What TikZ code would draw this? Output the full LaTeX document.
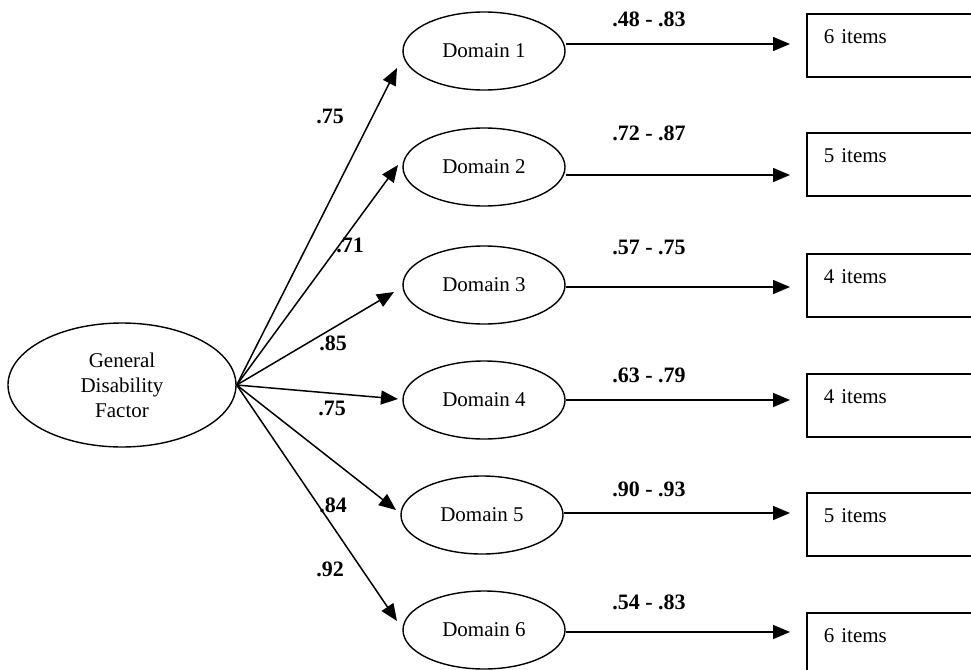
\documentclass[tikz,border=0pt]{standalone}
\usepackage{fontspec}
\setmainfont{Liberation Serif}
\usetikzlibrary{arrows.meta,shapes.geometric}
\begin{document}
\begin{tikzpicture}[x=1pt,y=-1pt,
  lat/.style={draw, ellipse, line width=1.4pt, minimum width=162pt, minimum height=78pt, inner sep=0pt, font=\fontsize{21}{25}\selectfont},
  gen/.style={draw, ellipse, line width=1.4pt, minimum width=228pt, minimum height=124pt, inner sep=0pt, align=center, font=\fontsize{21}{25}\selectfont},
  itembox/.style={draw, line width=1.8pt, rectangle, anchor=north west, minimum height=63pt, text width=170pt, inner xsep=17pt, inner ysep=0pt, align=left, text height=15pt, text depth=19pt, font=\fontsize{21}{25}\selectfont},
  coef/.style={font=\bfseries\fontsize{22}{26}\selectfont, inner sep=1pt},
  arr/.style={line width=1.5pt, -{Triangle[length=17pt,width=14pt]}},
]
\useasboundingbox (0,0) rectangle (971,669);
\clip (0,0) rectangle (971,669);
\fill[white] (0,0) rectangle (971,669);

\node[gen] (g) at (122,385) {General\\Disability\\Factor};

\node[lat] (d1) at (484,51) {Domain 1};
\node[lat] (d2) at (484,167) {Domain 2};
\node[lat] (d3) at (484,285) {Domain 3};
\node[lat] (d4) at (484,400) {Domain 4};
\node[lat] (d5) at (482,515) {Domain 5};
\node[lat] (d6) at (484,630) {Domain 6};

\node[itembox] (b1) at (806,13) {6 items};
\node[itembox] (b2) at (806,132) {5 items};
\node[itembox] (b3) at (806,253) {4 items};
\node[itembox] (b4) at (806,373) {4 items};
\node[itembox] (b5) at (806,492) {5 items};
\node[itembox] (b6) at (806,612) {6 items};

% tips of the loading arrows
\coordinate (t1) at (397,68);
\coordinate (t2) at (398,165);
\coordinate (t3) at (394,292);
\coordinate (t4) at (398,399);
\coordinate (t5) at (396,510);
\coordinate (t6) at (397,621);

\coordinate (r1) at (790,44);
\coordinate (r2) at (790,175);
\coordinate (r3) at (790,287);
\coordinate (r4) at (790,400);
\coordinate (r5) at (790,513);
\coordinate (r6) at (790,632);

\foreach \i in {1,...,6} {
  \draw[arr] (g.east) -- (t\i);
  \draw[arr] (d\i.east |- r\i) -- (r\i);
}

\node[coef] (c1) at (330,116) {.75};
\node[coef] (c2) at (350,245) {.71};
\node[coef] (c3) at (333,343) {.85};
\node[coef] (c4) at (332,408) {.75};
\node[coef] (c5) at (333,505) {.84};
\node[coef] (c6) at (330,569) {.92};

\node[coef] (l1) at (649,19) {.48 - .83};
\node[coef] (l2) at (649,133) {.72 - .87};
\node[coef] (l3) at (649,247) {.57 - .75};
\node[coef] (l4) at (649,375) {.63 - .79};
\node[coef] (l5) at (649,489) {.90 - .93};
\node[coef] (l6) at (649,602) {.54 - .83};
\end{tikzpicture}
\end{document}
